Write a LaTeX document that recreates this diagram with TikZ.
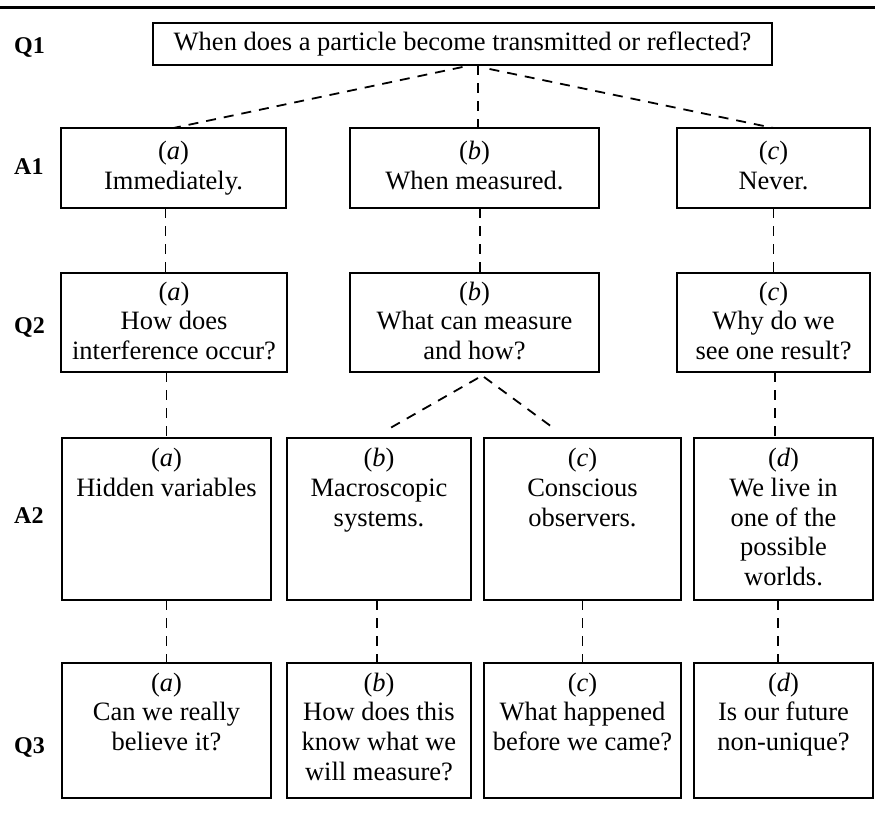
\documentclass[tikz,border=0pt]{standalone}
\usepackage{fontspec}
\setmainfont{Liberation Serif}
\usetikzlibrary{calc}
\newcommand\bx[7]{%
  \node[box, anchor=north west] (#1) at (#2,#3)
    {\begin{minipage}[c][#5pt][t]{#4pt}\centering\vspace*{#6pt}\rule{0pt}{20pt}#7\end{minipage}};}
\tikzset{
  box/.style={draw, line width=1.7pt, inner sep=0pt, outer sep=0pt,
    font=\fontsize{26.5}{29.8}\selectfont},
  lab/.style={anchor=base west, inner sep=0pt, font=\fontsize{24}{28}\selectfont\bfseries},
  dsh/.style={line width=1.8pt, dash pattern=on 10pt off 8pt},
  rulel/.style={line width=3pt}
}
\begin{document}
\begin{tikzpicture}[x=1pt,y=-1pt]
\useasboundingbox (0,0) rectangle (875,814);
\coordinate (rl) at (0,7);
\coordinate (rr) at (875,7);
\draw[rulel] (rl) -- (rr);
% row labels
\node[lab] (lQ1) at (14,53) {Q1};
\node[lab] (lA1) at (14,174) {A1};
\node[lab] (lQ2) at (14,333) {Q2};
\node[lab] (lA2) at (14,523) {A2};
\node[lab] (lQ3) at (14,753) {Q3};
% boxes
\bx{Q1}{153}{23}{619}{42}{7.2}{When does a particle become transmitted or reflected?}
\bx{A1a}{61}{128}{225}{80}{11.2}{(\textit{a})\\Immediately.}
\bx{A1b}{350}{128}{249}{80}{11.2}{(\textit{b})\\When measured.}
\bx{A1c}{677}{128}{193}{80}{11.2}{(\textit{c})\\Never.}
\bx{Q2a}{61}{273}{226}{99}{7}{(\textit{a})\\How does\\interference occur?}
\bx{Q2b}{350}{273}{249}{99}{7}{(\textit{b})\\What can measure\\and how?}
\bx{Q2c}{677}{273}{193}{99}{7}{(\textit{c})\\Why do we\\see one result?}
\bx{A2a}{62}{438}{209}{162}{8.5}{(\textit{a})\\Hidden variables}
\bx{A2b}{287}{438}{184}{162}{8.5}{(\textit{b})\\Macroscopic\\systems.}
\bx{A2c}{484}{438}{197}{162}{8.5}{(\textit{c})\\Conscious\\observers.}
\bx{A2d}{694}{438}{179}{162}{8.5}{(\textit{d})\\We live in\\one of the\\possible\\worlds.}
\bx{Q3a}{62}{663}{209}{135}{8}{(\textit{a})\\Can we really\\believe it?}
\bx{Q3b}{287}{663}{184}{135}{8}{(\textit{b})\\How does this\\know what we\\will measure?}
\bx{Q3c}{484}{663}{197}{135}{8}{(\textit{c})\\What happened\\before we came?}
\bx{Q3d}{694}{663}{179}{135}{8}{(\textit{d})\\Is our future\\non-unique?}
% connectors
\draw[dsh] ([yshift=-2pt]Q1.south) -- (A1a.north);
\draw[dsh] ([xshift=3.5pt]A1b.north |- Q1.south) -- ([xshift=3.5pt]A1b.north);
\draw[dsh] ([xshift=27pt,yshift=-4pt]Q1.south) -- (A1c.north);
\draw[dsh] ([xshift=-8pt]A1a.south) -- ([xshift=-8pt]A1a.south |- Q2a.north);
\draw[dsh] ([xshift=5.5pt]A1b.south) -- ([xshift=5.5pt]A1b.south |- Q2b.north);
\draw[dsh] (A1c.south) -- (A1c.south |- Q2c.north);
\draw[dsh] (A2a.north |- Q2a.south) -- (A2a.north);
\draw[dsh] ([xshift=3.5pt,yshift=-6pt]Q2b.south) -- ([xshift=6pt,yshift=7pt]A2b.north);
\draw[dsh] ([xshift=9.5pt,yshift=-5pt]Q2b.south) -- ([xshift=-30.5pt,yshift=11pt]A2c.north);
\draw[dsh] ([xshift=1.5pt]Q2c.south) -- ([xshift=1.5pt]Q2c.south |- A2d.north);
\draw[dsh] (A2a.south) -- (A2a.south |- Q3a.north);
\draw[dsh] ([xshift=-2pt]A2b.south) -- ([xshift=-2pt]A2b.south |- Q3b.north);
\draw[dsh] (A2c.south) -- (A2c.south |- Q3c.north);
\draw[dsh] ([xshift=-5.5pt]A2d.south) -- ([xshift=-5.5pt]A2d.south |- Q3d.north);
\end{tikzpicture}
\end{document}
